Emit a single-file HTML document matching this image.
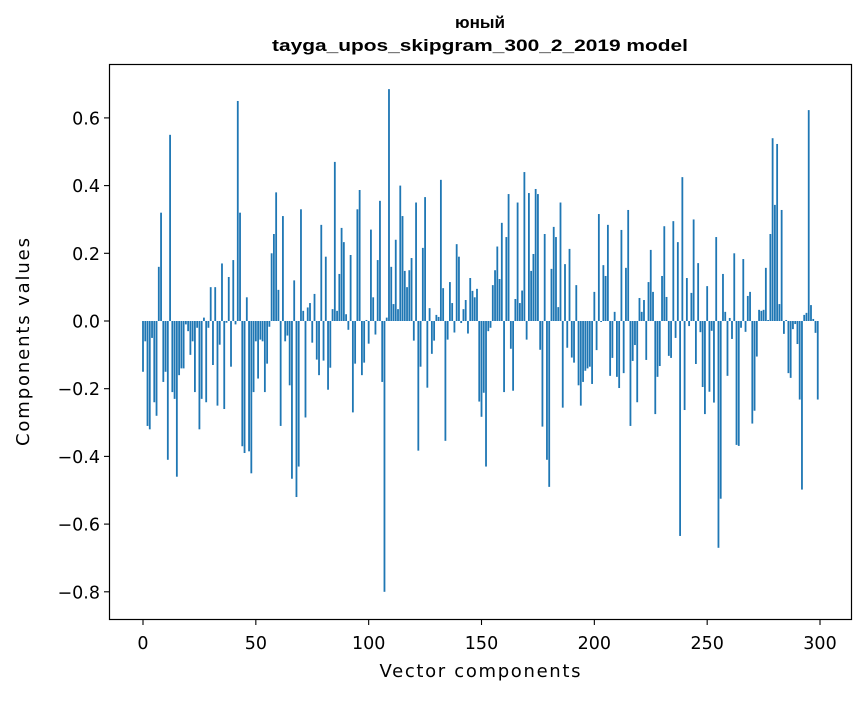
<!DOCTYPE html>
<html><head><meta charset="utf-8"><style>
html,body{margin:0;padding:0;background:#fff;}
svg text{font-family:"DejaVu Sans","Liberation Sans",sans-serif;fill:#000;}
</style></head><body>
<svg id="chart" width="867" height="696" viewBox="0 0 867 696" xmlns="http://www.w3.org/2000/svg">
<rect x="0" y="0" width="867" height="696" fill="#fff"/>
<text x="480" y="28" text-anchor="middle" font-size="17" font-weight="bold" style="font-family:'Liberation Sans',sans-serif" textLength="50" lengthAdjust="spacingAndGlyphs">юный</text>
<text x="480" y="51" text-anchor="middle" font-size="17" font-weight="bold" style="font-family:'Liberation Sans',sans-serif" textLength="416" lengthAdjust="spacingAndGlyphs">tayga_upos_skipgram_300_2_2019 model</text>
<g id="bars"></g>
<rect x="109.5" y="64.5" width="742" height="555" fill="none" stroke="#000" stroke-width="1.2"/>
<g id="xticks"></g>
<g id="yticks"></g>
<text x="480" y="677" text-anchor="middle" font-size="18" textLength="201" lengthAdjust="spacing">Vector components</text>
<text transform="translate(29,342) rotate(-90)" text-anchor="middle" font-size="18" textLength="208" lengthAdjust="spacing">Components values</text>
</svg>
<script>
const values = [
-0.15,-0.06,-0.31,-0.32,-0.05,-0.24,-0.28,0.16,0.32,-0.18,
-0.15,-0.41,0.55,-0.21,-0.23,-0.46,-0.16,-0.14,-0.14,-0.01,
-0.03,-0.10,-0.06,-0.21,-0.02,-0.32,-0.23,0.01,-0.24,-0.02,
0.10,-0.13,0.10,-0.25,-0.07,0.17,-0.26,-0.005,0.13,-0.135,
0.18,-0.01,0.65,0.32,-0.37,-0.39,0.07,-0.385,-0.45,-0.21,
-0.06,-0.17,-0.055,-0.06,-0.21,-0.126,-0.017,0.20,0.257,0.38,
0.092,-0.31,0.31,-0.06,-0.043,-0.19,-0.466,0.12,-0.52,-0.43,
0.33,0.03,-0.285,0.04,0.053,-0.064,0.08,-0.114,-0.16,0.284,
-0.117,0.19,-0.203,-0.138,0.035,0.47,0.03,0.139,0.275,0.233,
0.02,-0.026,0.195,-0.27,-0.126,0.33,0.387,-0.16,-0.123,0.003,
-0.067,0.27,0.07,-0.04,0.18,0.355,-0.18,-0.80,0.01,0.685,
0.16,0.05,0.24,0.035,0.40,0.31,0.148,0.10,0.15,0.186,
-0.058,0.35,-0.383,-0.135,0.216,0.366,-0.197,0.038,-0.097,-0.058,
0.018,0.012,0.417,0.097,-0.354,-0.055,0.115,0.053,-0.034,0.227,
0.19,-0.006,0.035,0.062,-0.037,0.127,0.089,0.07,0.095,-0.238,
-0.283,-0.212,-0.43,-0.03,-0.02,0.106,0.15,0.22,0.124,0.29,
-0.21,0.248,0.375,-0.082,-0.206,0.065,0.35,0.053,0.09,0.44,
-0.055,0.378,0.148,0.198,0.39,0.375,-0.085,-0.312,0.257,-0.41,
-0.49,0.154,0.278,0.248,0.041,0.35,-0.256,0.168,-0.079,0.213,
-0.108,-0.123,0.106,-0.19,-0.25,-0.18,-0.147,-0.14,-0.135,-0.186,
0.086,-0.086,0.316,-0.003,0.165,0.133,0.284,-0.162,-0.109,0.027,
-0.165,-0.198,0.269,-0.154,0.157,0.328,-0.31,-0.118,-0.071,-0.24,
0.068,0.027,0.062,-0.115,0.115,0.21,0.086,-0.275,-0.165,-0.133,
0.133,0.28,0.071,-0.103,-0.109,0.295,-0.05,0.233,-0.635,0.425,
-0.263,0.127,-0.015,0.083,0.30,-0.127,0.171,-0.033,-0.195,-0.275,
0.103,-0.209,-0.029,-0.241,0.248,-0.67,-0.525,0.139,0.027,-0.162,
0.009,-0.053,0.20,-0.366,-0.369,-0.02,0.183,-0.032,0.074,0.086,
-0.303,-0.265,-0.105,0.033,0.03,0.033,0.157,0.003,0.257,0.54,
0.343,0.523,0.05,0.328,-0.038,0.003,-0.154,-0.168,-0.024,-0.009,
-0.068,-0.232,-0.498,0.018,0.024,0.623,0.047,0.006,-0.035,-0.232
];
const xTickValues = [0,50,100,150,200,250,300];
const xTickLabels = ["0","50","100","150","200","250","300"];
const yTickValues = [-0.8,-0.6,-0.4,-0.2,0.0,0.2,0.4,0.6];
const yTickLabels = ["\u22120.8","\u22120.6","\u22120.4","\u22120.2","0.0","0.2","0.4","0.6"];

const NS = "http://www.w3.org/2000/svg";
function xScale(i){ return 143 + i * 2.2567; }
function yScale(v){ return 321 - v * 338.5; }

const barsG = document.getElementById('bars');
values.forEach(function(v, i){
  const r = document.createElementNS(NS, 'rect');
  const x0 = xScale(i - 0.4), x1 = xScale(i + 0.4);
  const y0 = Math.min(yScale(v), yScale(0)), y1 = Math.max(yScale(v), yScale(0));
  r.setAttribute('x', x0);
  r.setAttribute('y', y0);
  r.setAttribute('width', x1 - x0);
  r.setAttribute('height', Math.max(y1 - y0, 0.01));
  r.setAttribute('fill', '#1f77b4');
  
  
  barsG.appendChild(r);
});

const xg = document.getElementById('xticks');
xTickValues.forEach(function(t, k){
  const x = xScale(t);
  const l = document.createElementNS(NS, 'line');
  l.setAttribute('x1', x); l.setAttribute('x2', x);
  l.setAttribute('y1', 620); l.setAttribute('y2', 625);
  l.setAttribute('stroke', '#000'); l.setAttribute('stroke-width', '1.1');
  
  
  xg.appendChild(l);
  const tx = document.createElementNS(NS, 'text');
  tx.setAttribute('x', x); tx.setAttribute('y', 649);
  tx.setAttribute('text-anchor', 'middle'); tx.setAttribute('font-size', '17.5');
  tx.textContent = xTickLabels[k];
  
  
  xg.appendChild(tx);
});

const yg = document.getElementById('yticks');
yTickValues.forEach(function(t, k){
  const y = yScale(t);
  const l = document.createElementNS(NS, 'line');
  l.setAttribute('x1', 104); l.setAttribute('x2', 109.5);
  l.setAttribute('y1', y); l.setAttribute('y2', y);
  l.setAttribute('stroke', '#000'); l.setAttribute('stroke-width', '1.1');
  
  
  yg.appendChild(l);
  const tx = document.createElementNS(NS, 'text');
  tx.setAttribute('x', 100); tx.setAttribute('y', y + 6.5);
  tx.setAttribute('text-anchor', 'end'); tx.setAttribute('font-size', '17.5');
  tx.textContent = yTickLabels[k];
  
  
  yg.appendChild(tx);
});
</script>
</body></html>
